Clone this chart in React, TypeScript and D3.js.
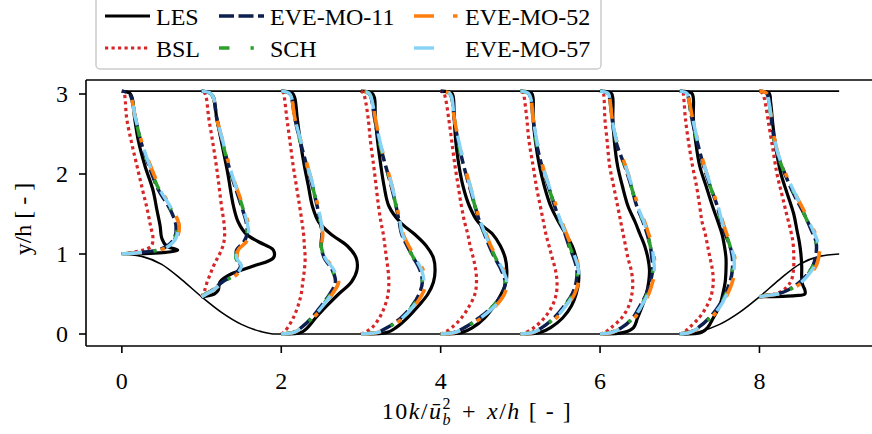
import React from 'react';
import * as d3 from 'd3';

// ---------------- data ----------------
const STATIONS = [0, 1, 2, 3, 4, 5, 6, 7, 8];

// wall-normal sampling heights (y/h) for each station
const Y_S0 = [1.0, 1.02, 1.05, 1.1, 1.2, 1.35, 1.55, 1.8, 2.1, 2.4, 2.7, 2.95, 3.01, 3.036];
const Y_S1 = [0.465, 0.5, 0.55, 0.65, 0.75, 0.85, 0.95, 1.05, 1.15, 1.25, 1.4, 1.6, 2.0, 2.4, 2.7, 2.95, 3.01, 3.036];
const Y_FLAT = [0, 0.02, 0.08, 0.2, 0.35, 0.5, 0.65, 0.8, 0.95, 1.1, 1.25, 1.4, 1.6, 1.85, 2.1, 2.4, 2.7, 2.95, 3.01, 3.036];
const Y_S8 = [0.465, 0.48, 0.5, 0.55, 0.62, 0.7, 0.85, 1.0, 1.15, 1.3, 1.5, 1.75, 2.0, 2.3, 2.6, 2.9, 3.01, 3.036];
const Y_GRIDS = [Y_S0, Y_S1, Y_FLAT, Y_FLAT, Y_FLAT, Y_FLAT, Y_FLAT, Y_FLAT, Y_S8];

// 10 k / u_b^2 at each station
const LES = [
  [0, 0.55, 0.70, 0.56, 0.50, 0.48, 0.44, 0.39, 0.29, 0.21, 0.16, 0.13, 0.10, 0],
  [0, 0.16, 0.21, 0.23, 0.37, 0.65, 0.90, 0.90, 0.72, 0.56, 0.46, 0.40, 0.33, 0.25, 0.19, 0.15, 0.11, 0],
  [0, 0.25, 0.33, 0.43, 0.57, 0.72, 0.88, 0.95, 0.94, 0.83, 0.62, 0.47, 0.39, 0.34, 0.29, 0.24, 0.20, 0.17, 0.14, 0],
  [0, 0.33, 0.44, 0.58, 0.72, 0.84, 0.91, 0.93, 0.91, 0.82, 0.67, 0.49, 0.35, 0.29, 0.25, 0.21, 0.18, 0.17, 0.14, 0],
  [0, 0.27, 0.40, 0.55, 0.67, 0.76, 0.82, 0.83, 0.81, 0.75, 0.65, 0.47, 0.36, 0.28, 0.23, 0.19, 0.17, 0.16, 0.14, 0],
  [0, 0.25, 0.38, 0.53, 0.64, 0.70, 0.73, 0.73, 0.70, 0.65, 0.57, 0.48, 0.38, 0.30, 0.24, 0.19, 0.16, 0.16, 0.14, 0],
  [0, 0.30, 0.42, 0.47, 0.53, 0.58, 0.61, 0.62, 0.60, 0.56, 0.50, 0.44, 0.35, 0.28, 0.22, 0.18, 0.16, 0.16, 0.14, 0],
  [0, 0.27, 0.35, 0.42, 0.50, 0.54, 0.57, 0.58, 0.58, 0.56, 0.53, 0.48, 0.41, 0.33, 0.25, 0.20, 0.17, 0.17, 0.15, 0],
  [0, 0.45, 0.57, 0.57, 0.54, 0.53, 0.53, 0.52, 0.50, 0.47, 0.43, 0.35, 0.27, 0.21, 0.17, 0.14, 0.12, 0],
];
const BSL = [
  [0, 0.12, 0.27, 0.37, 0.39, 0.36, 0.32, 0.26, 0.19, 0.12, 0.06, 0.04, 0.03, 0],
  [0, 0.02, 0.04, 0.07, 0.11, 0.15, 0.20, 0.25, 0.28, 0.29, 0.28, 0.25, 0.20, 0.14, 0.09, 0.06, 0.04, 0],
  [0, 0.03, 0.08, 0.15, 0.21, 0.25, 0.27, 0.29, 0.30, 0.29, 0.28, 0.26, 0.23, 0.19, 0.15, 0.11, 0.07, 0.04, 0.03, 0],
  [0, 0.05, 0.14, 0.23, 0.30, 0.34, 0.35, 0.34, 0.32, 0.30, 0.28, 0.25, 0.22, 0.19, 0.16, 0.12, 0.09, 0.05, 0.03, 0],
  [0, 0.05, 0.14, 0.26, 0.36, 0.43, 0.45, 0.44, 0.41, 0.37, 0.34, 0.30, 0.26, 0.22, 0.18, 0.14, 0.10, 0.06, 0.04, 0],
  [0, 0.07, 0.17, 0.30, 0.40, 0.45, 0.46, 0.44, 0.40, 0.36, 0.32, 0.29, 0.25, 0.20, 0.16, 0.11, 0.08, 0.05, 0.04, 0],
  [0, 0.06, 0.14, 0.27, 0.36, 0.40, 0.41, 0.39, 0.35, 0.32, 0.29, 0.26, 0.22, 0.17, 0.12, 0.09, 0.06, 0.05, 0.04, 0],
  [0, 0.05, 0.12, 0.24, 0.34, 0.40, 0.42, 0.41, 0.38, 0.35, 0.32, 0.28, 0.25, 0.21, 0.16, 0.11, 0.07, 0.05, 0.04, 0],
  [0, 0.08, 0.20, 0.30, 0.37, 0.41, 0.43, 0.43, 0.42, 0.39, 0.34, 0.28, 0.22, 0.17, 0.12, 0.07, 0.04, 0],
];
const EVE_MO_11 = [
  [0, 0.25, 0.45, 0.57, 0.66, 0.68, 0.61, 0.46, 0.34, 0.24, 0.17, 0.12, 0.09, 0],
  [0, 0.05, 0.14, 0.26, 0.42, 0.49, 0.44, 0.44, 0.53, 0.57, 0.56, 0.50, 0.37, 0.26, 0.19, 0.15, 0.11, 0],
  [0, 0.15, 0.25, 0.38, 0.50, 0.61, 0.68, 0.64, 0.54, 0.50, 0.51, 0.49, 0.45, 0.39, 0.32, 0.24, 0.17, 0.13, 0.10, 0],
  [0, 0.20, 0.33, 0.50, 0.64, 0.73, 0.77, 0.74, 0.66, 0.58, 0.51, 0.48, 0.44, 0.38, 0.31, 0.23, 0.17, 0.13, 0.10, 0],
  [0, 0.17, 0.30, 0.48, 0.66, 0.77, 0.81, 0.76, 0.68, 0.61, 0.55, 0.49, 0.43, 0.36, 0.29, 0.22, 0.17, 0.14, 0.11, 0],
  [0, 0.15, 0.27, 0.42, 0.55, 0.65, 0.70, 0.71, 0.67, 0.61, 0.56, 0.50, 0.43, 0.35, 0.27, 0.20, 0.16, 0.13, 0.10, 0],
  [0, 0.14, 0.27, 0.41, 0.50, 0.58, 0.63, 0.66, 0.65, 0.63, 0.59, 0.54, 0.46, 0.39, 0.31, 0.20, 0.15, 0.12, 0.10, 0],
  [0, 0.12, 0.23, 0.37, 0.49, 0.57, 0.63, 0.66, 0.66, 0.63, 0.57, 0.52, 0.47, 0.38, 0.30, 0.22, 0.15, 0.11, 0.09, 0],
  [0, 0.08, 0.22, 0.36, 0.47, 0.56, 0.67, 0.71, 0.71, 0.65, 0.56, 0.43, 0.32, 0.21, 0.16, 0.12, 0.09, 0],
];
const SCH = [
  [0, 0.25, 0.46, 0.58, 0.67, 0.69, 0.62, 0.47, 0.34, 0.24, 0.17, 0.12, 0.09, 0],
  [0, 0.05, 0.14, 0.27, 0.43, 0.48, 0.43, 0.45, 0.53, 0.57, 0.56, 0.51, 0.37, 0.26, 0.19, 0.15, 0.11, 0],
  [0, 0.15, 0.26, 0.39, 0.51, 0.62, 0.68, 0.64, 0.55, 0.50, 0.51, 0.49, 0.45, 0.39, 0.32, 0.24, 0.17, 0.13, 0.10, 0],
  [0, 0.20, 0.34, 0.51, 0.65, 0.74, 0.77, 0.74, 0.66, 0.58, 0.52, 0.48, 0.44, 0.38, 0.31, 0.23, 0.17, 0.13, 0.10, 0],
  [0, 0.17, 0.31, 0.49, 0.66, 0.77, 0.81, 0.77, 0.69, 0.62, 0.55, 0.49, 0.43, 0.36, 0.29, 0.22, 0.17, 0.14, 0.11, 0],
  [0, 0.15, 0.28, 0.43, 0.56, 0.66, 0.71, 0.71, 0.67, 0.62, 0.56, 0.50, 0.43, 0.35, 0.27, 0.20, 0.16, 0.13, 0.10, 0],
  [0, 0.14, 0.27, 0.41, 0.51, 0.59, 0.64, 0.66, 0.65, 0.63, 0.59, 0.54, 0.46, 0.39, 0.31, 0.21, 0.15, 0.12, 0.10, 0],
  [0, 0.12, 0.24, 0.38, 0.50, 0.58, 0.63, 0.66, 0.66, 0.63, 0.58, 0.52, 0.47, 0.38, 0.30, 0.22, 0.15, 0.11, 0.09, 0],
  [0, 0.08, 0.22, 0.37, 0.48, 0.57, 0.67, 0.71, 0.71, 0.65, 0.56, 0.44, 0.32, 0.21, 0.16, 0.12, 0.09, 0],
];
const EVE_MO_52 = [
  [0, 0.26, 0.47, 0.60, 0.69, 0.72, 0.64, 0.49, 0.36, 0.25, 0.17, 0.12, 0.09, 0],
  [0, 0.06, 0.15, 0.28, 0.45, 0.51, 0.45, 0.46, 0.56, 0.60, 0.58, 0.52, 0.38, 0.27, 0.19, 0.15, 0.11, 0],
  [0, 0.16, 0.26, 0.40, 0.53, 0.64, 0.72, 0.67, 0.56, 0.51, 0.52, 0.50, 0.46, 0.40, 0.33, 0.25, 0.17, 0.13, 0.10, 0],
  [0, 0.21, 0.35, 0.53, 0.67, 0.77, 0.82, 0.78, 0.69, 0.60, 0.53, 0.49, 0.45, 0.39, 0.32, 0.24, 0.18, 0.13, 0.10, 0],
  [0, 0.18, 0.32, 0.51, 0.69, 0.80, 0.84, 0.79, 0.71, 0.63, 0.57, 0.50, 0.44, 0.37, 0.30, 0.23, 0.17, 0.14, 0.11, 0],
  [0, 0.16, 0.29, 0.45, 0.58, 0.68, 0.73, 0.74, 0.70, 0.64, 0.58, 0.52, 0.45, 0.36, 0.28, 0.21, 0.16, 0.13, 0.10, 0],
  [0, 0.15, 0.28, 0.43, 0.53, 0.61, 0.66, 0.70, 0.68, 0.66, 0.61, 0.56, 0.48, 0.40, 0.32, 0.21, 0.15, 0.12, 0.10, 0],
  [0, 0.13, 0.25, 0.39, 0.52, 0.60, 0.66, 0.69, 0.69, 0.65, 0.59, 0.54, 0.48, 0.39, 0.31, 0.23, 0.16, 0.11, 0.09, 0],
  [0, 0.09, 0.23, 0.38, 0.50, 0.59, 0.71, 0.75, 0.75, 0.68, 0.58, 0.45, 0.33, 0.22, 0.16, 0.12, 0.09, 0],
];
const EVE_MO_57 = [
  [0, 0.26, 0.46, 0.59, 0.68, 0.70, 0.63, 0.48, 0.35, 0.25, 0.17, 0.12, 0.09, 0],
  [0, 0.06, 0.15, 0.27, 0.44, 0.50, 0.44, 0.45, 0.55, 0.59, 0.57, 0.51, 0.38, 0.27, 0.19, 0.15, 0.11, 0],
  [0, 0.16, 0.26, 0.39, 0.52, 0.63, 0.70, 0.66, 0.55, 0.51, 0.52, 0.50, 0.46, 0.40, 0.33, 0.25, 0.17, 0.13, 0.10, 0],
  [0, 0.21, 0.34, 0.52, 0.66, 0.75, 0.79, 0.76, 0.68, 0.59, 0.52, 0.49, 0.45, 0.39, 0.32, 0.24, 0.18, 0.13, 0.10, 0],
  [0, 0.18, 0.31, 0.50, 0.68, 0.79, 0.83, 0.78, 0.70, 0.62, 0.56, 0.50, 0.44, 0.37, 0.30, 0.23, 0.17, 0.14, 0.11, 0],
  [0, 0.16, 0.28, 0.44, 0.57, 0.67, 0.72, 0.73, 0.69, 0.63, 0.57, 0.51, 0.44, 0.36, 0.28, 0.21, 0.16, 0.13, 0.10, 0],
  [0, 0.15, 0.28, 0.42, 0.52, 0.60, 0.65, 0.68, 0.67, 0.65, 0.60, 0.55, 0.47, 0.40, 0.32, 0.21, 0.15, 0.12, 0.10, 0],
  [0, 0.13, 0.24, 0.38, 0.51, 0.59, 0.65, 0.68, 0.68, 0.64, 0.58, 0.53, 0.48, 0.39, 0.31, 0.23, 0.16, 0.11, 0.09, 0],
  [0, 0.09, 0.23, 0.37, 0.49, 0.58, 0.69, 0.73, 0.73, 0.67, 0.57, 0.45, 0.33, 0.22, 0.16, 0.12, 0.09, 0],
];

// hill geometry (left hill; right hill is its mirror at x = 9)
const HILL_X = [0, 0.25, 0.5, 0.75, 1.0, 1.25, 1.5, 1.75, 1.93];
const HILL_Y = [1, 0.97, 0.87, 0.68, 0.465, 0.27, 0.12, 0.03, 0];
const CHANNEL_LENGTH = 9;
const TOP_WALL = 3.036;

const X_TICKS = [0, 2, 4, 6, 8];
const Y_TICKS = [0, 1, 2, 3];

const SERIES = [
  { name: 'LES', data: LES, color: '#000000', width: 3.2, dash: null as string | null },
  { name: 'BSL', data: BSL, color: '#d62728', width: 3.2, dash: '3.2 3.3' },
  { name: 'EVE-MO-11', data: EVE_MO_11, color: '#0d1f4f', width: 3.5, dash: '15 4.5' },
  { name: 'SCH', data: SCH, color: '#2ca02c', width: 3.5, dash: '10.5 21 3.3 21' },
  { name: 'EVE-MO-52', data: EVE_MO_52, color: '#ff7f0e', width: 3.6, dash: '20 19 4.5 19' },
  { name: 'EVE-MO-57', data: EVE_MO_57, color: '#86d3f7', width: 3.4, dash: '20 25' },
];

const LEGEND_ORDER = [
  ['LES', 'EVE-MO-11', 'EVE-MO-52'],
  ['BSL', 'SCH', 'EVE-MO-57'],
];

const FONT = "'Liberation Serif', 'Times New Roman', serif";
const FS = 24;

export default function App() {
  const W = 872;
  const H = 434;
  const x = d3.scaleLinear().domain([-0.45, 9.55]).range([86, 883]);
  const y = d3.scaleLinear().domain([-0.15, 3.175]).range([346, 80]);

  const profileLine = d3
    .line<[number, number]>()
    .x((d) => x(d[0]))
    .y((d) => y(d[1]))
    .curve(d3.curveCatmullRom.alpha(0.5));

  const hillPts: [number, number][] = [];
  HILL_X.forEach((hx, i) => hillPts.push([hx, HILL_Y[i]]));
  for (let i = HILL_X.length - 1; i >= 0; i--) hillPts.push([CHANNEL_LENGTH - HILL_X[i], HILL_Y[i]]);
  const hillLine = d3
    .line<[number, number]>()
    .x((d) => x(d[0]))
    .y((d) => y(d[1]))
    .curve(d3.curveMonotoneX);

  const left = 86;
  const right = 883;
  const top = 80;
  const bottom = 346;

  const legendCols = [105, 219, 414];
  const legendRows = [16, 48];
  const seriesByName: Record<string, (typeof SERIES)[number]> = {};
  SERIES.forEach((s) => (seriesByName[s.name] = s));

  return (
    <svg
      width={W}
      height={H}
      style={{ position: 'absolute', left: 0, top: 0, background: '#fff' }}
      fontFamily={FONT}
    >
      <defs>
        <clipPath id="plotclip">
          <rect x={left} y={top} width={right - left} height={bottom - top} />
        </clipPath>
      </defs>
      <rect x={0} y={0} width={W} height={H} fill="#fff" />

      <g clipPath="url(#plotclip)">
        {/* walls */}
        <path d={hillLine(hillPts) || ''} fill="none" stroke="#000" strokeWidth={1.6} />
        <line x1={x(0)} x2={x(CHANNEL_LENGTH)} y1={y(TOP_WALL)} y2={y(TOP_WALL)} stroke="#000" strokeWidth={1.6} />
        {SERIES.map((s) => (
          <g key={s.name}>
            {STATIONS.map((st, i) => {
              const pts: [number, number][] = Y_GRIDS[i].map((yy, j) => [st + s.data[i][j], yy]);
              return (
                <path
                  key={i}
                  d={profileLine(pts) || ''}
                  fill="none"
                  stroke={s.color}
                  strokeWidth={s.width}
                  strokeDasharray={s.dash || undefined}
                  strokeLinejoin="round"
                />
              );
            })}
          </g>
        ))}
      </g>

      {/* frame */}
      <line x1={left} x2={left} y1={top} y2={bottom} stroke="#000" strokeWidth={1.6} />
      <line x1={left} x2={right} y1={top} y2={top} stroke="#000" strokeWidth={1.6} />
      <line x1={left} x2={right} y1={bottom} y2={bottom} stroke="#000" strokeWidth={1.6} />

      {/* x ticks */}
      {X_TICKS.map((t) => (
        <g key={t}>
          <line x1={x(t)} x2={x(t)} y1={bottom} y2={bottom + 7} stroke="#000" strokeWidth={1.6} />
          <text x={x(t)} y={389} textAnchor="middle" fontSize={FS}>
            {t}
          </text>
        </g>
      ))}
      {/* y ticks */}
      {Y_TICKS.map((t) => (
        <g key={t}>
          <line x1={left - 7} x2={left} y1={y(t)} y2={y(t)} stroke="#000" strokeWidth={1.6} />
          <text x={68} y={y(t) + 8} textAnchor="end" fontSize={FS}>
            {t}
          </text>
        </g>
      ))}

      {/* axis labels */}
      <text x={477} y={419} textAnchor="middle" fontSize={FS} letterSpacing={1.5}>
        <tspan>10</tspan>
        <tspan fontStyle="italic">k</tspan>
        <tspan>/</tspan>
        <tspan fontStyle="italic">ū</tspan>
        <tspan fontSize={16} dy={-10}>2</tspan>
        <tspan fontSize={16} fontStyle="italic" dx={-9.5} dy={16}>b</tspan>
        <tspan dx={10} dy={-6}>+</tspan>
        <tspan fontStyle="italic" dx={10}>x</tspan>
        <tspan>/</tspan>
        <tspan fontStyle="italic">h</tspan>
        <tspan dx={8}>[ - ]</tspan>
      </text>
      <text transform="translate(31,219) rotate(-90)" textAnchor="middle" fontSize={FS}>
        y/h [ - ]
      </text>

      {/* legend */}
      <rect x={96} y={-4} width={505} height={73} rx={4} ry={4} fill="#fff" fillOpacity={0.9} stroke="#cccccc" strokeWidth={1.5} />
      {LEGEND_ORDER.map((row, r) =>
        row.map((name, c) => {
          const s = seriesByName[name];
          const lx = legendCols[c];
          const ly = legendRows[r];
          return (
            <g key={name}>
              <line
                x1={lx}
                x2={lx + 45}
                y1={ly}
                y2={ly}
                stroke={s.color}
                strokeWidth={s.width}
                strokeDasharray={s.dash || undefined}
              />
              <text x={lx + 51} y={ly + 8.5} fontSize={FS}>
                {name}
              </text>
            </g>
          );
        })
      )}
    </svg>
  );
}
